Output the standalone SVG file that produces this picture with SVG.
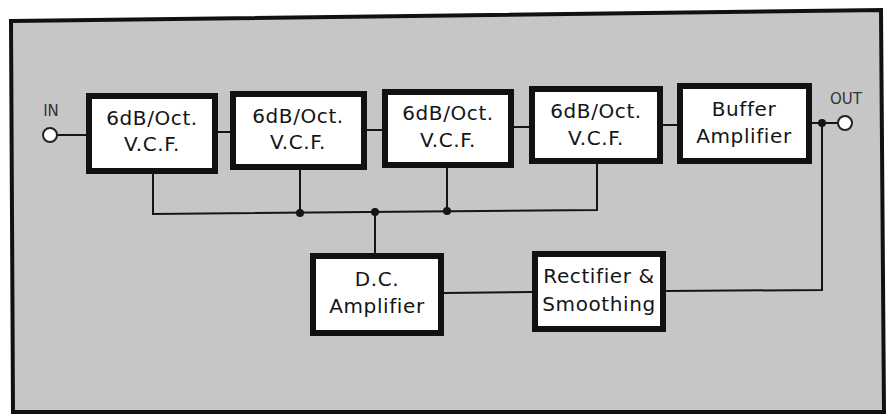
<svg xmlns="http://www.w3.org/2000/svg" width="892" height="414" viewBox="0 0 892 414">
<style>
.box{fill:#fff;stroke:#111;stroke-width:6}
.t{font-family:"DejaVu Sans",sans-serif;font-size:20px;fill:#151515;text-anchor:middle;letter-spacing:0.6px}
.lbl{font-family:"DejaVu Sans",sans-serif;font-size:15px;fill:#333;text-anchor:middle}
.w{fill:none;stroke:#151515;stroke-width:2}
.dot{fill:#151515}
.term{fill:#fff;stroke:#222;stroke-width:2}
</style>
<rect width="892" height="414" fill="#fff"/>
<polygon points="11,21 881,10 884,412 13,412" fill="#c6c6c6" stroke="#111" stroke-width="4"/>
<g id="connectors">
<line class="w" x1="57" y1="135" x2="89" y2="135"/>
<line class="w" x1="218" y1="132" x2="233" y2="132"/>
<line class="w" x1="367" y1="130" x2="385" y2="130"/>
<line class="w" x1="514" y1="127" x2="532" y2="127"/>
<line class="w" x1="663" y1="125" x2="680" y2="125"/>
<line class="w" x1="812" y1="123" x2="838" y2="123"/>
<polyline class="w" points="153,174 153,214 597,210 597,164"/>
<line class="w" x1="300" y1="170" x2="300" y2="213"/>
<line class="w" x1="447" y1="168" x2="447" y2="211"/>
<line class="w" x1="375" y1="212" x2="375" y2="256"/>
<line class="w" x1="444" y1="293" x2="532" y2="292"/>
<polyline class="w" points="666,291 822,290 822,123"/>
<circle class="dot" cx="300" cy="213" r="4"/>
<circle class="dot" cx="375" cy="212" r="4"/>
<circle class="dot" cx="447" cy="211" r="4"/>
<circle class="dot" cx="822" cy="123" r="4"/>
</g>
<g id="in">
<circle class="term" cx="50" cy="135" r="7"/>
<text class="lbl" x="51" y="116">IN</text>
</g>
<g id="out">
<circle class="term" cx="845" cy="123" r="7"/>
<text class="lbl" x="846" y="104">OUT</text>
</g>
<g id="vcf1">
<rect class="box" x="89" y="96" width="126" height="75"/>
<text class="t" x="152" y="125">6dB/Oct.</text>
<text class="t" x="152" y="151">V.C.F.</text>
</g>
<g id="vcf2">
<rect class="box" x="233" y="94" width="131" height="73"/>
<text class="t" x="298" y="123">6dB/Oct.</text>
<text class="t" x="298" y="149">V.C.F.</text>
</g>
<g id="vcf3">
<rect class="box" x="385" y="92" width="126" height="73"/>
<text class="t" x="448" y="120">6dB/Oct.</text>
<text class="t" x="448" y="147">V.C.F.</text>
</g>
<g id="vcf4">
<rect class="box" x="532" y="89" width="128" height="72"/>
<text class="t" x="596" y="118">6dB/Oct.</text>
<text class="t" x="596" y="145">V.C.F.</text>
</g>
<g id="buffer">
<rect class="box" x="680" y="86" width="129" height="75"/>
<text class="t" x="744" y="116">Buffer</text>
<text class="t" x="744" y="143">Amplifier</text>
</g>
<g id="dcamp">
<rect class="box" x="313" y="256" width="128" height="77"/>
<text class="t" x="377" y="286">D.C.</text>
<text class="t" x="377" y="313">Amplifier</text>
</g>
<g id="rectifier">
<rect class="box" x="535" y="254" width="128" height="75"/>
<text class="t" x="599" y="283">Rectifier &amp;</text>
<text class="t" x="599" y="311">Smoothing</text>
</g>
</svg>
